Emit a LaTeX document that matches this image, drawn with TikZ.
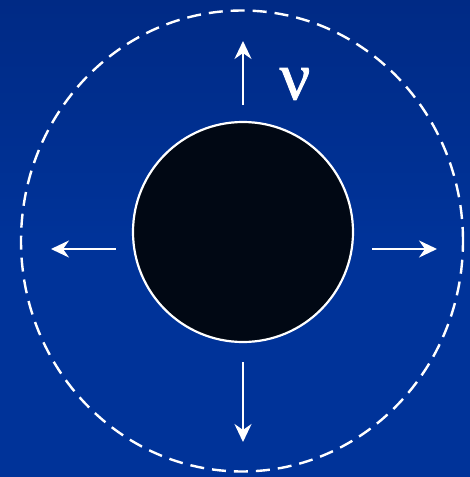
\documentclass[tikz,border=0pt]{standalone}
\usepackage{fontspec}
\setmainfont{Liberation Serif}
\newfontfamily\nufont[FakeBold=1.2]{Liberation Serif}
\usetikzlibrary{arrows.meta, positioning, shapes.geometric}
\definecolor{bgBlue}{HTML}{003399}
\definecolor{bgTop}{HTML}{002A85}
\definecolor{ballBlack}{HTML}{010814}

\begin{document}
\begin{tikzpicture}[
  x=1pt, y=-1pt,
  ball/.style={circle, draw=white, line width=2.2pt, fill=ballBlack, minimum size=220pt, inner sep=0pt},
  shell/.style={ellipse, draw=white, dash pattern=on 14pt off 8pt, line width=2.4pt, minimum width=442pt, minimum height=461pt, inner sep=0pt},
  arr/.style={-{Stealth[length=18pt, width=17pt, inset=6pt]}, draw=white, line width=2.6pt},
]
% background
\shade[top color=bgTop, bottom color=bgBlue, middle color=bgBlue] (0,0) rectangle (470,477);
\useasboundingbox (0,0) rectangle (470,477);

\node[shell] (shell) at (242,241) {};
\node[ball] (ball) at (243,232) {};

% arrow ends
\coordinate (upS) at (243,105);   \coordinate (upE) at (243,41);
\coordinate (leftS) at (116,249); \coordinate (leftE) at (51,249);
\coordinate (rightS) at (372,249);\coordinate (rightE) at (437,249);
\coordinate (downS) at (243,362); \coordinate (downE) at (243,442);

\draw[arr] (upS) -- (upE);
\draw[arr] (leftS) -- (leftE);
\draw[arr] (rightS) -- (rightE);
\draw[arr] (downS) -- (downE);

\node[text=white, font=\nufont\fontsize{68}{68}\selectfont, inner sep=0pt] (nu) at (295,84) {ν};
\end{tikzpicture}
\end{document}
